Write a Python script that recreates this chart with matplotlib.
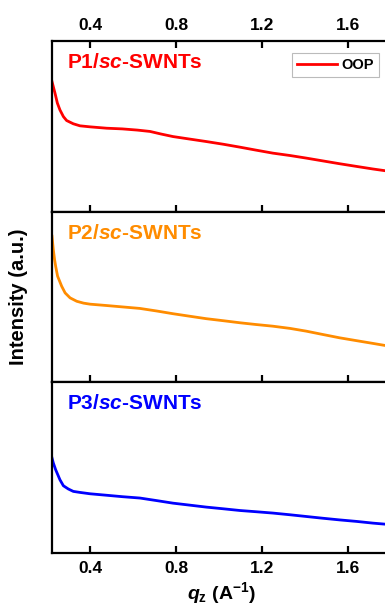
import matplotlib
matplotlib.use("Agg")
import matplotlib.pyplot as plt

plt.rcParams["font.family"] = ["Liberation Sans", "DejaVu Sans"]
plt.rcParams["font.weight"] = "bold"
plt.rcParams["mathtext.fontset"] = "custom"
plt.rcParams["mathtext.rm"] = "Liberation Sans:bold"
plt.rcParams["mathtext.it"] = "Liberation Sans:italic:bold"
plt.rcParams["mathtext.bf"] = "Liberation Sans:bold"

# --- datos (intensidad normalizada por panel) ---
q1 = [0.223, 0.237, 0.248, 0.26, 0.276, 0.291, 0.322, 0.353, 0.40, 0.477, 0.55, 0.62, 0.679,
      0.73, 0.786, 0.86, 0.94, 1.02, 1.097, 1.17, 1.25, 1.33, 1.405, 1.48, 1.56, 1.64,
      1.716, 1.772, 1.795]
i1 = [0.762, 0.694, 0.636, 0.596, 0.557, 0.534, 0.515, 0.503, 0.497, 0.489, 0.485, 0.478, 0.470,
      0.455, 0.440, 0.426, 0.411, 0.395, 0.378, 0.361, 0.343, 0.329, 0.314, 0.298, 0.281, 0.265,
      0.250, 0.240, 0.236]

q2 = [0.223, 0.229, 0.235, 0.24, 0.249, 0.268, 0.284, 0.307, 0.338, 0.37, 0.40, 0.477, 0.55,
      0.632, 0.71, 0.786, 0.86, 0.94, 1.02, 1.097, 1.17, 1.25, 1.33, 1.405, 1.48, 1.56, 1.64,
      1.716, 1.772, 1.795]
i2 = [0.856, 0.778, 0.719, 0.680, 0.622, 0.563, 0.524, 0.495, 0.475, 0.464, 0.458, 0.450, 0.442,
      0.433, 0.418, 0.402, 0.388, 0.373, 0.361, 0.349, 0.339, 0.329, 0.316, 0.300, 0.281, 0.261,
      0.244, 0.228, 0.216, 0.212]

q3 = [0.223, 0.229, 0.24, 0.26, 0.276, 0.299, 0.322, 0.353, 0.40, 0.48, 0.55, 0.632, 0.71,
      0.786, 0.86, 0.94, 1.02, 1.097, 1.17, 1.25, 1.33, 1.405, 1.48, 1.56, 1.64, 1.716, 1.772, 1.795]
i3 = [0.557, 0.528, 0.488, 0.429, 0.394, 0.375, 0.361, 0.355, 0.347, 0.338, 0.330, 0.322, 0.307,
      0.292, 0.281, 0.269, 0.259, 0.249, 0.242, 0.234, 0.224, 0.214, 0.204, 0.194, 0.185, 0.175,
      0.169, 0.167]

series = [(q1, i1, "#ff0000", "P1/$sc$-SWNTs"),
          (q2, i2, "#ff8c00", "P2/$sc$-SWNTs"),
          (q3, i3, "#0000ff", "P3/$sc$-SWNTs")]
ticks = [0.4, 0.8, 1.2, 1.6]

fig = plt.figure(figsize=(3.85, 6.12), dpi=100)
left = 52 / 385
right = 390 / 385
top = 1 - 41 / 612
bottom = 1 - 553 / 612
h = (top - bottom) / 3

axes = []
for k, (q, inten, col, lab) in enumerate(series):
    ax = fig.add_axes([left, top - (k + 1) * h, right - left, h])
    ax.plot(q, inten, color=col, lw=2, label="OOP")
    ax.set_xlim(0.223, 1.795)
    ax.set_ylim(0, 1)
    ax.set_yticks([])
    ax.set_xticks(ticks)
    for s in ax.spines.values():
        s.set_linewidth(1.6)
    ax.tick_params(axis="x", direction="in", length=5, width=1.6,
                   labelsize=12.5, top=(k == 0), labeltop=(k == 0),
                   labelbottom=(k == 2), pad=6)
    ax.text(0.044, 0.93, lab, transform=ax.transAxes, color=col,
            fontsize=15, fontweight="bold", va="top", ha="left")
    axes.append(ax)

leg = axes[0].legend(loc="upper right", bbox_to_anchor=(0.967, 0.93), borderaxespad=0,
                     fontsize=10.5, handlelength=2.7, handletextpad=0.3,
                     fancybox=False, framealpha=1, borderpad=0.35)
leg.get_frame().set_edgecolor("#bbbbbb")
leg.get_frame().set_linewidth(0.8)

axes[2].set_xticklabels(["0.4", "0.8", "1.2", "1.6"])
axes[2].set_xlabel(r"$q_{\mathrm{z}}$ (A$^{\mathrm{-1}}$)", fontsize=14,
                   fontweight="bold", labelpad=3)
fig.text(0.047, (top + bottom) / 2, "Intensity (a.u.)", rotation=90,
         fontsize=14.5, fontweight="bold", ha="center", va="center")

fig.savefig("out.png", dpi=100)
